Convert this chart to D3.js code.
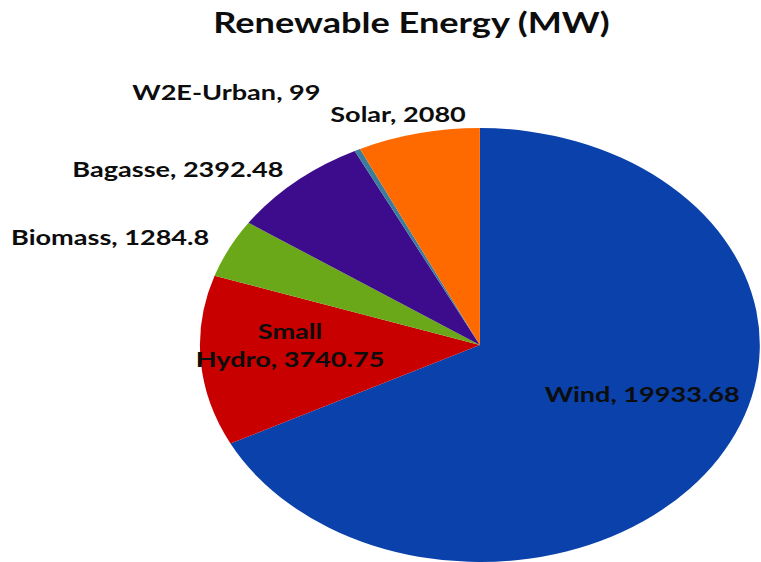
<!DOCTYPE html>
<html>
<head>
<meta charset="utf-8">
<script src="https://cdn.jsdelivr.net/npm/d3@7"></script>
<style>
  html, body { margin: 0; padding: 0; background: #fff; }
  text { font-family: Lato, "Open Sans", sans-serif; font-weight: 700; fill: #0d0d0d; }
</style>
</head>
<body>
<svg id="chart" width="761" height="562"></svg>
<script>
var categories = ["Wind", "Small Hydro", "Biomass", "Bagasse", "W2E-Urban", "Solar"];
var values = [19933.68, 3740.75, 1284.8, 2392.48, 99, 2080];
var colors = ["#0a41aa", "#c80000", "#6aa81a", "#3d0c8c", "#3a7c9c", "#ff6a00"];
var title = "Renewable Energy (MW)";

// excel label placement: radius factor, anchor, nudge
var labelPos = [
	{r: 0.68, anchor: "middle", dx: 0, dy: -27},
	{r: 0.68, anchor: "middle", dx: 0, dy: -10},
	{r: 1.08, anchor: "end", dx: 0, dy: -3},
	{r: 1.08, anchor: "end", dx: 2, dy: 1},
	{r: 1.08, anchor: "end", dx: -21, dy: -42},
	{r: 1.08, anchor: "middle", dx: -12, dy: -2}
];
var wrapped = ["Small Hydro"];

// the source picture is a round excel pie stretched sideways
var sx = 1.29;
var cx = 372, cy = 345, radius = 217;

var svg = d3.select("#chart");
var g = svg.append("g").attr("transform", "scale(" + sx + ",1)");

g.append("text")
	.attr("x", 319)
	.attr("y", 33)
	.attr("text-anchor", "middle")
	.style("font-size", "28px")
	.text(title);

var data = categories.map(function(c, i) { return {name: c, value: values[i], i: i}; });

var pie = d3.pie().sort(null).value(function(d) { return d.value; });
var arcs = pie(data);

var arc = d3.arc().innerRadius(0).outerRadius(radius);

var pieG = g.append("g").attr("transform", "translate(" + cx + "," + cy + ")");

pieG.selectAll("path")
	.data(arcs)
	.enter().append("path")
		.attr("d", arc)
		.attr("fill", function(d) { return colors[d.data.i]; });

var labels = pieG.selectAll("text.lbl")
	.data(arcs)
	.enter().append("text")
		.attr("class", "lbl")
		.style("font-size", "21px")
		.attr("text-anchor", function(d) { return labelPos[d.data.i].anchor; })
		.attr("transform", function(d) {
			var p = labelPos[d.data.i];
			var c = d3.arc().innerRadius(radius * p.r).outerRadius(radius * p.r).centroid(d);
			return "translate(" + (c[0] + p.dx) + "," + (c[1] + p.dy) + ")";
		});

labels.each(function(d) {
	var txt = d.data.name + ", " + d.data.value;
	var lines = [txt];
	if (wrapped.indexOf(d.data.name) >= 0) {
		var k = txt.indexOf(" ");
		lines = [txt.slice(0, k), txt.slice(k + 1)];
	}
	var el = d3.select(this);
	var off = -(lines.length - 1) * 14;
	lines.forEach(function(l, j) {
		el.append("tspan")
			.attr("x", 0)
			.attr("y", off + j * 28)
			.attr("dy", "0.35em")
			.text(l);
	});
});
</script>
</body>
</html>
